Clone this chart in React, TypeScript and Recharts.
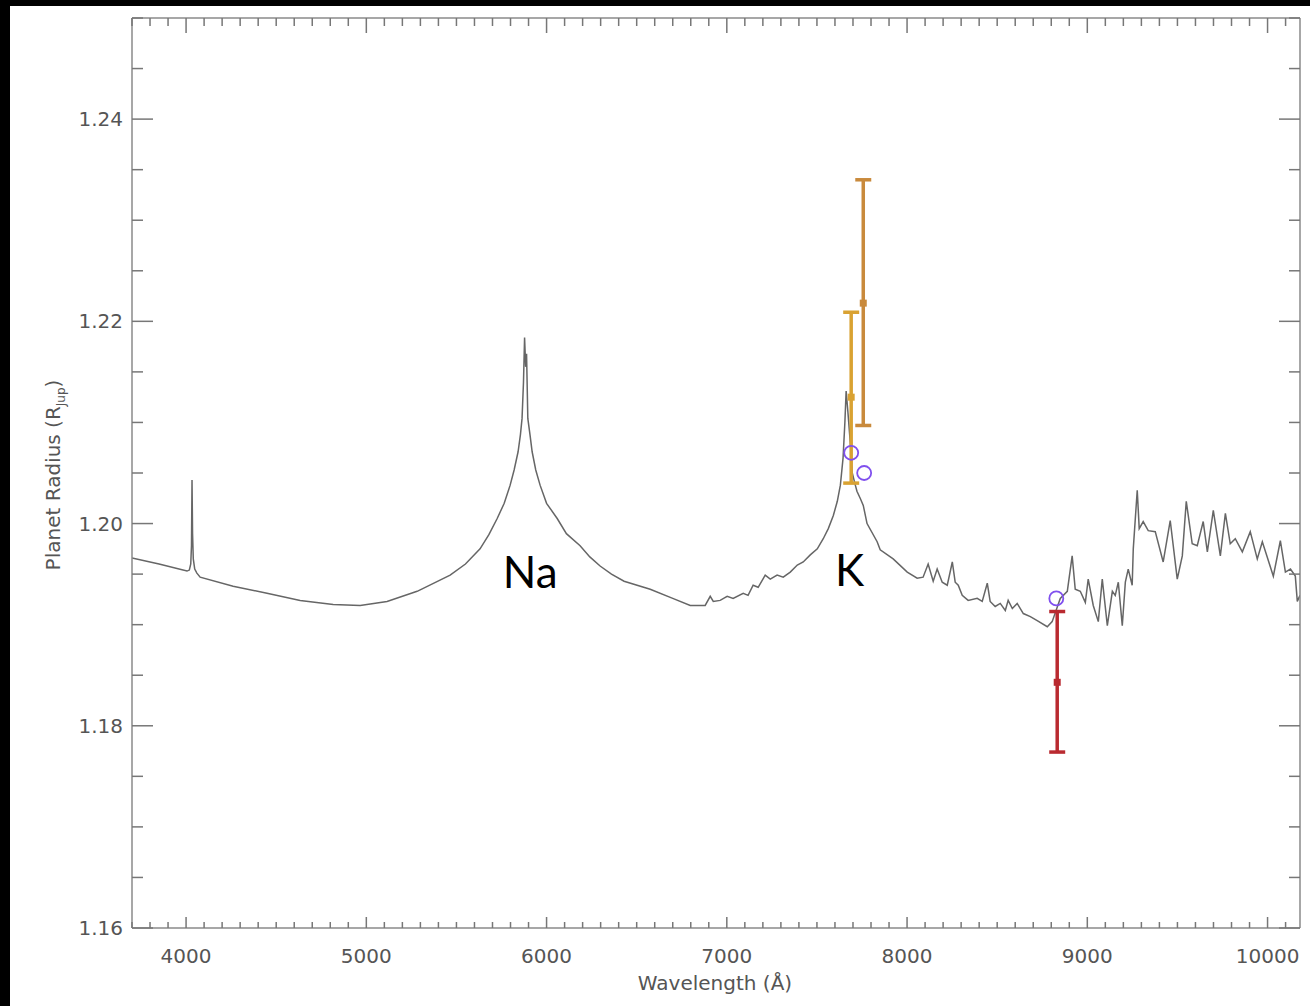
import { ComposedChart, Line, Scatter, ErrorBar, XAxis, YAxis, ReferenceDot } from "recharts";

// model transmission spectrum (wavelength in Å, radius in R_Jup)
const specWave = [
  3700, 3850, 4005, 4018, 4026, 4030, 4033, 4036, 4040, 4048, 4060, 4078, 4261, 4449, 4633, 4816, 4966, 5115, 5282, 5465,
  5550, 5631, 5680, 5726, 5765, 5798, 5820, 5842, 5855, 5864, 5872, 5878, 5884, 5889, 5896, 5908, 5920, 5940, 5964, 6000,
  6059, 6110, 6186, 6240, 6297, 6360, 6430, 6575, 6700, 6797, 6880,
  6908, 6925, 6963, 7002, 7035, 7091, 7118, 7146, 7174, 7213, 7241, 7279, 7313, 7352, 7391, 7424, 7463, 7502, 7535, 7563,
  7591, 7613, 7630, 7645, 7655, 7662, 7672, 7685, 7696, 7710, 7722, 7740, 7757, 7778, 7834, 7851, 7923, 8001, 8056, 8089, 8117,
  8145, 8167, 8195, 8223, 8251, 8267, 8284, 8306, 8339, 8389, 8417, 8445, 8461, 8489, 8517, 8545, 8561, 8584, 8611, 8645,
  8684, 8722, 8778, 8805, 8850, 8889, 8916, 8933, 8961, 8989, 9005, 9033, 9061, 9083, 9111, 9139, 9155, 9172, 9194, 9211,
  9227, 9249, 9255, 9277, 9288, 9310, 9338, 9377, 9421, 9460, 9499, 9527, 9549, 9582, 9610, 9643, 9666, 9699, 9738, 9766,
  9793, 9821, 9860, 9904, 9943, 9971, 10032, 10071, 10099, 10127, 10154, 10165, 10180,
];
const specRadius = [
  1.1966, 1.196, 1.1953, 1.1954, 1.196, 1.1978, 1.2043, 1.199, 1.1965, 1.1955, 1.1951, 1.1947, 1.1938, 1.1931, 1.1924, 1.192, 1.1919, 1.1923, 1.1933, 1.1949,
  1.196, 1.1975, 1.1989, 1.2005, 1.202, 1.2038, 1.2053, 1.2071, 1.2088, 1.2104, 1.214, 1.2184, 1.2155, 1.2168, 1.2104, 1.2088, 1.2071, 1.2053, 1.2038, 1.202,
  1.2005, 1.199, 1.1978, 1.1967, 1.1958, 1.195, 1.1943, 1.1935, 1.1926, 1.1919, 1.1919,
  1.1928, 1.1923, 1.1924, 1.1928, 1.1926, 1.1931, 1.1929, 1.1939, 1.1937, 1.1949, 1.1945, 1.1949, 1.1947, 1.1952, 1.1959, 1.1962, 1.1969, 1.1975, 1.1985, 1.1995,
  1.2008, 1.2022, 1.2038, 1.2065, 1.21, 1.2131, 1.211, 1.208, 1.205, 1.204, 1.2032, 1.2025, 1.2018, 1.2, 1.1982, 1.1974, 1.1965, 1.1952, 1.1946, 1.1947, 1.196,
  1.1943, 1.1955, 1.1942, 1.1939, 1.1962, 1.1942, 1.1939, 1.1929, 1.1924, 1.1926, 1.1923, 1.1941, 1.1923, 1.1918, 1.1921, 1.1914, 1.1924, 1.1916, 1.1921, 1.1911,
  1.1908, 1.1904, 1.1898, 1.1903, 1.1926, 1.1933, 1.1968, 1.1935, 1.1933, 1.1922, 1.1945, 1.1919, 1.1903, 1.1945, 1.1899, 1.1933, 1.1929, 1.1942, 1.1899, 1.1942,
  1.1955, 1.1939, 1.1975, 1.2033, 1.1995, 1.2002, 1.1993, 1.1992, 1.1962, 1.2003, 1.1945, 1.1968, 1.2022, 1.198, 1.1978, 1.2002, 1.1972, 1.2013, 1.1968, 1.201,
  1.198, 1.1985, 1.1972, 1.1992, 1.1965, 1.1982, 1.1948, 1.1983, 1.1952, 1.1955, 1.1948, 1.1923, 1.1929,
];

// measured points with error bars
const barWave = [7690, 7757, 8833];
const barRadius = [1.2125, 1.2218, 1.1843];
const barErrLow = [0.0085, 0.0121, 0.0069];
const barErrHigh = [0.0084, 0.0122, 0.007];
const barColors = ["#d9a232", "#c98a3c", "#b92a30"];

// open circles
const circleWave = [7690, 7762, 8828];
const circleRadius = [1.207, 1.205, 1.1926];

// line annotations
const noteText = ["Na", "K"];
const noteWave = [5909, 7681];
const noteRadius = [1.1936, 1.1938];

const xMajor = [4000, 5000, 6000, 7000, 8000, 9000, 10000];
const xTicks = Array.from({ length: 65 }, (_, i) => 3700 + i * 100);
const yMajor = [1.16, 1.18, 1.2, 1.22, 1.24];
const yTicks = Array.from({ length: 19 }, (_, i) => Math.round((1.16 + i * 0.005) * 1000) / 1000);

const spectrum = specWave.map((w, i) => ({ w, v: specRadius[i] }));
const bars = barWave.map((w, i) => ({ w, v: barRadius[i], err: [barErrLow[i], barErrHigh[i]] }));
const circles = circleWave.map((w, i) => ({ w, v: circleRadius[i] }));

const AXIS = "#8a8a8a";
const TICK = "#777";
const TXT = "#555";
const FONT = "DejaVu Sans";

const isXMajor = (v: number) => xMajor.includes(v);
const isYMajor = (v: number) => yMajor.some((m) => Math.abs(m - v) < 1e-6);

const BottomTick = ({ x, y, payload }: any) => {
  const major = isXMajor(payload.value);
  return (
    <g>
      <line x1={x} x2={x} y1={y} y2={y - (major ? 11 : 6)} stroke={TICK} strokeWidth={1.5} />
      {major && (
        <text x={x} y={y + 35} textAnchor="middle" fontSize={20} fontFamily={FONT} fill={TXT}>
          {payload.value}
        </text>
      )}
    </g>
  );
};

const TopTick = ({ x, y, payload }: any) => {
  const major = isXMajor(payload.value);
  return <line x1={x} x2={x} y1={y} y2={y + (major ? 15 : 8)} stroke={TICK} strokeWidth={1.5} />;
};

const LeftTick = ({ x, y, payload }: any) => {
  const major = isYMajor(payload.value);
  return (
    <g>
      <line x1={x} x2={x + (major ? 21 : 11)} y1={y} y2={y} stroke={TICK} strokeWidth={1.5} />
      {major && (
        <text x={x - 9} y={y + 7} textAnchor="end" fontSize={20} fontFamily={FONT} fill={TXT}>
          {payload.value.toFixed(2)}
        </text>
      )}
    </g>
  );
};

const RightTick = ({ x, y, payload }: any) => {
  const major = isYMajor(payload.value);
  return <line x1={x} x2={x - (major ? 21 : 11)} y1={y} y2={y} stroke={TICK} strokeWidth={1.5} />;
};

export default function App() {
  return (
    <div style={{ position: "fixed", left: 0, top: 0, width: 1310, height: 1006, background: "#000" }}>
      <div style={{ position: "absolute", left: 10, top: 6, width: 1300, height: 1000, background: "#fff" }}>
        <ComposedChart width={1300} height={1000} margin={{ top: 0, right: 0, bottom: 8, left: 0 }}>
          <XAxis
            xAxisId="b"
            type="number"
            dataKey="w"
            orientation="bottom"
            domain={[3700, 10180]}
            allowDataOverflow
            ticks={xTicks}
            interval={0}
            height={70}
            tickSize={0}
            tickMargin={0}
            tickLine={false}
            axisLine={{ stroke: AXIS, strokeWidth: 1.5 }}
            tick={<BottomTick />}
          />
          <XAxis
            xAxisId="t"
            type="number"
            dataKey="w"
            orientation="top"
            domain={[3700, 10180]}
            allowDataOverflow
            ticks={xTicks}
            interval={0}
            height={12}
            tickSize={0}
            tickMargin={0}
            tickLine={false}
            axisLine={{ stroke: AXIS, strokeWidth: 1.5 }}
            tick={<TopTick />}
          />
          <YAxis
            yAxisId="l"
            type="number"
            orientation="left"
            domain={[1.16, 1.25]}
            allowDataOverflow
            ticks={yTicks}
            interval={0}
            width={122}
            tickSize={0}
            tickMargin={0}
            tickLine={false}
            axisLine={{ stroke: AXIS, strokeWidth: 1.5 }}
            tick={<LeftTick />}
          />
          <YAxis
            yAxisId="r"
            type="number"
            orientation="right"
            domain={[1.16, 1.25]}
            allowDataOverflow
            ticks={yTicks}
            interval={0}
            width={10}
            tickSize={0}
            tickMargin={0}
            tickLine={false}
            axisLine={{ stroke: AXIS, strokeWidth: 1.5 }}
            tick={<RightTick />}
          />

          <Line
            xAxisId="b"
            yAxisId="l"
            data={spectrum}
            dataKey="v"
            type="linear"
            stroke="#666"
            strokeWidth={1.5}
            dot={false}
            isAnimationActive={false}
          />

          {bars.map((b, i) => (
            <Scatter
              key={i}
              xAxisId="b"
              yAxisId="l"
              data={[b]}
              dataKey="v"
              isAnimationActive={false}
              shape={(p: any) => (
                <rect x={p.cx - 3.5} y={p.cy - 3.5} width={7} height={7} fill={barColors[i]} />
              )}
            >
              <ErrorBar dataKey="err" direction="y" width={8} stroke={barColors[i]} strokeWidth={3.5} />
            </Scatter>
          ))}

          <Scatter
            xAxisId="b"
            yAxisId="l"
            data={circles}
            dataKey="v"
            isAnimationActive={false}
            shape={(p: any) => <circle cx={p.cx} cy={p.cy} r={7} fill="none" stroke="#8050ee" strokeWidth={1.8} />}
          />

          {noteText.map((t, i) => (
            <ReferenceDot
              key={t}
              xAxisId="b"
              yAxisId="l"
              x={noteWave[i]}
              y={noteRadius[i]}
              r={0}
              shape={(p: any) => (
                <text x={p.cx} y={p.cy} textAnchor="middle" fontSize={44} fontFamily="Lato" fill="#000">
                  {t}
                </text>
              )}
            />
          ))}

          <text x={705} y={984} textAnchor="middle" fontSize={20} fontFamily={FONT} fill={TXT}>
            Wavelength (Å)
          </text>
          <text
            x={50}
            y={469}
            transform="rotate(-90 50 469)"
            textAnchor="middle"
            fontSize={20}
            fontFamily={FONT}
            fill={TXT}
          >
            Planet Radius (R<tspan fontSize={12} dy={5}>Jup</tspan>
            <tspan dy={-5}>)</tspan>
          </text>
        </ComposedChart>
      </div>
    </div>
  );
}
